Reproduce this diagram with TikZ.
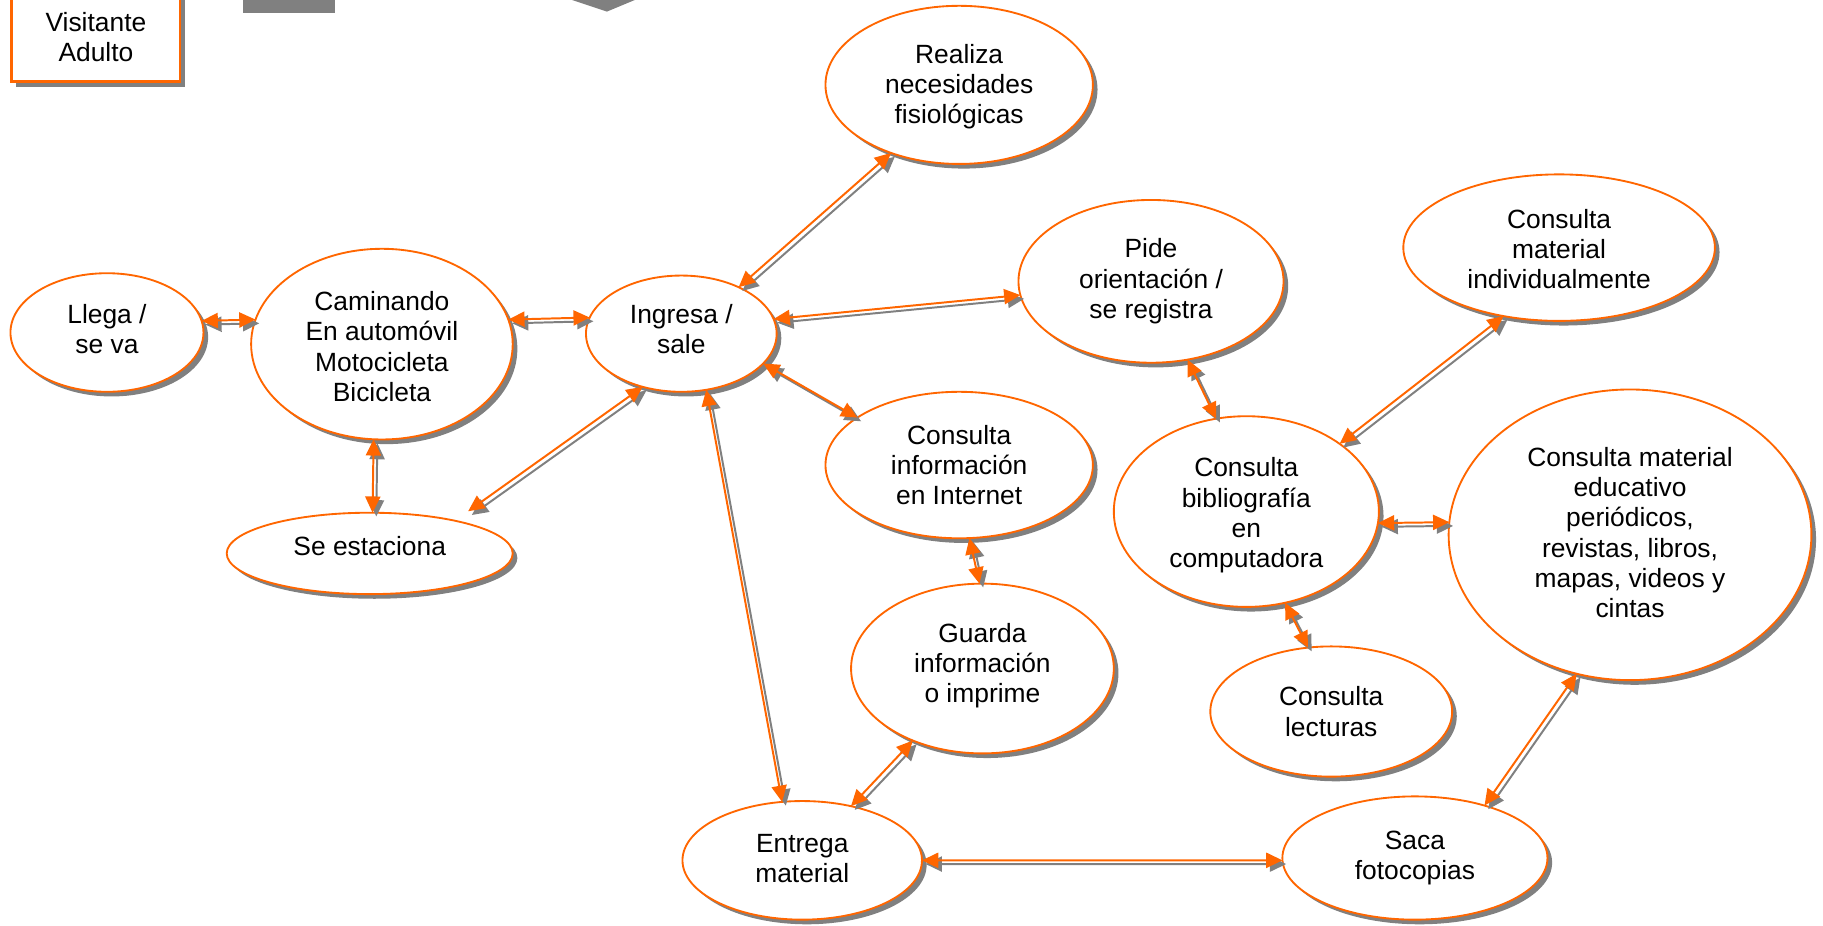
\documentclass[tikz,border=0pt]{standalone}
\usepackage{fontspec}
\setmainfont{Liberation Sans}
\usetikzlibrary{shapes.geometric,arrows.meta,shadows}
\definecolor{orng}{HTML}{FF6600}
\definecolor{shgray}{HTML}{808080}
\tikzset{
  txt/.style={font=\fontsize{11.35pt}{13pt}\selectfont, align=center},
  el/.style={ellipse, draw=orng, line width=0.8pt, fill=white, inner sep=0pt, outer sep=0pt, txt,
    drop shadow={shadow xshift=2pt, shadow yshift=-2pt, fill=shgray, opacity=1}},
  boxnode/.style={rectangle, draw=orng, line width=1pt, fill=white, inner sep=0pt, outer sep=0pt, txt,
    minimum width=72.5pt, minimum height=38pt,
    drop shadow={shadow xshift=2pt, shadow yshift=-2.5pt, fill=shgray, opacity=1}},
  tips/.style={{Triangle[length=7pt,width=6.5pt]}-{Triangle[length=7pt,width=6.5pt]}},
  conn/.style={draw=orng, line width=0.85pt, tips},
  connsh/.style={draw=shgray, line width=0.85pt, tips, transform canvas={xshift=1.6pt,yshift=-1.6pt}},
}
\newcommand{\linkab}[3][]{\draw[connsh,#1] #2 -- #3; \draw[conn,#1] #2 -- #3;}
\newcommand{\lift}[2]{\raisebox{#1}[\height][\depth]{\begin{tabular}{@{}c@{}}#2\end{tabular}}}
\begin{document}
\begin{tikzpicture}[x=0.5pt,y=-0.5pt]
\useasboundingbox (0,0) rectangle (1568,796);
% partial grey shapes at the top edge
\fill[shgray] (209,-5) rectangle (288,11);
\fill[shgray] (492,-5) -- (492,0) -- (522,10) -- (546,0) -- (546,-5) -- cycle;
% box
\node[boxnode] (visit) at (82.5,32) {Visitante\\Adulto};
% ellipses
\node[el, minimum width=83pt, minimum height=51pt] (llega) at (92,286) {\lift{0pt}{Llega /\\se va}};
\node[el, minimum width=112.5pt, minimum height=82pt] (camin) at (328.5,296) {\lift{-2.5pt}{Caminando\\En automóvil\\Motocicleta\\Bicicleta}};
\node[el, minimum width=82pt, minimum height=50pt] (ingresa) at (586,287) {\lift{0.5pt}{Ingresa /\\sale}};
\node[el, minimum width=115pt, minimum height=68pt] (realiza) at (825,73) {\lift{-1pt}{Realiza\\necesidades\\fisiológicas}};
\node[el, minimum width=114pt, minimum height=70pt] (pide) at (990,242) {Pide\\orientación /\\se registra};
\node[el, minimum width=134pt, minimum height=63pt] (indiv) at (1341,213) {\lift{-2pt}{Consulta\\material\\individualmente}};
\node[el, minimum width=115pt, minimum height=63pt] (info) at (825,400) {Consulta\\información\\en Internet};
\node[el, minimum width=114pt, minimum height=82pt] (biblio) at (1072,440) {\lift{-2pt}{Consulta\\bibliografía\\en\\computadora}};
\node[el, minimum width=156pt, minimum height=125pt] (educ) at (1402,460) {\lift{-0.5pt}{Consulta material\\educativo\\periódicos,\\revistas, libros,\\mapas, videos y\\cintas}};
\node[el, minimum width=123pt, minimum height=35pt] (estac) at (318,476) {\raisebox{6pt}{Se estaciona}};
\node[el, minimum width=113pt, minimum height=73pt] (guarda) at (845,575) {\lift{1pt}{Guarda\\información\\o imprime}};
\node[el, minimum width=104pt, minimum height=56pt] (lect) at (1145,612) {Consulta\\lecturas};
\node[el, minimum width=103pt, minimum height=51pt] (entrega) at (690,740) {\lift{-0.5pt}{Entrega\\material}};
\node[el, minimum width=114pt, minimum height=53pt] (saca) at (1217,738) {Saca\\fotocopias};
% connectors
\linkab{(llega.7.5)}{(camin.169.3)}
\linkab{(camin.11.5)}{(ingresa.170.7)}
\linkab{(camin.-95.6)}{(estac.86.7)}
\linkab[shorten <=7pt]{(estac.21.3)}{(ingresa.-126)}
\linkab{(ingresa.39.2)}{(realiza.-135.5)}
\linkab{(ingresa.9.5)}{(pide.-174.5)}
\linkab{(ingresa.-20.7)}{(info.155.5)}
\linkab{(ingresa.-66.7)}{(entrega.109.5)}
\linkab{(info.-82.8)}{(guarda.92.4)}
\linkab{(guarda.-134.1)}{(entrega.48.1)}
\linkab{(entrega.-0.6)}{(saca.181.5)}
\linkab{(pide.-65.3)}{(biblio.108.9)}
\linkab{(biblio.36.1)}{(indiv.-129)}
\linkab{(biblio.-5.5)}{(educ.176.6)}
\linkab{(biblio.-67.2)}{(lect.110.3)}
\linkab{(saca.37.7)}{(educ.-111.6)}
\end{tikzpicture}
\end{document}
